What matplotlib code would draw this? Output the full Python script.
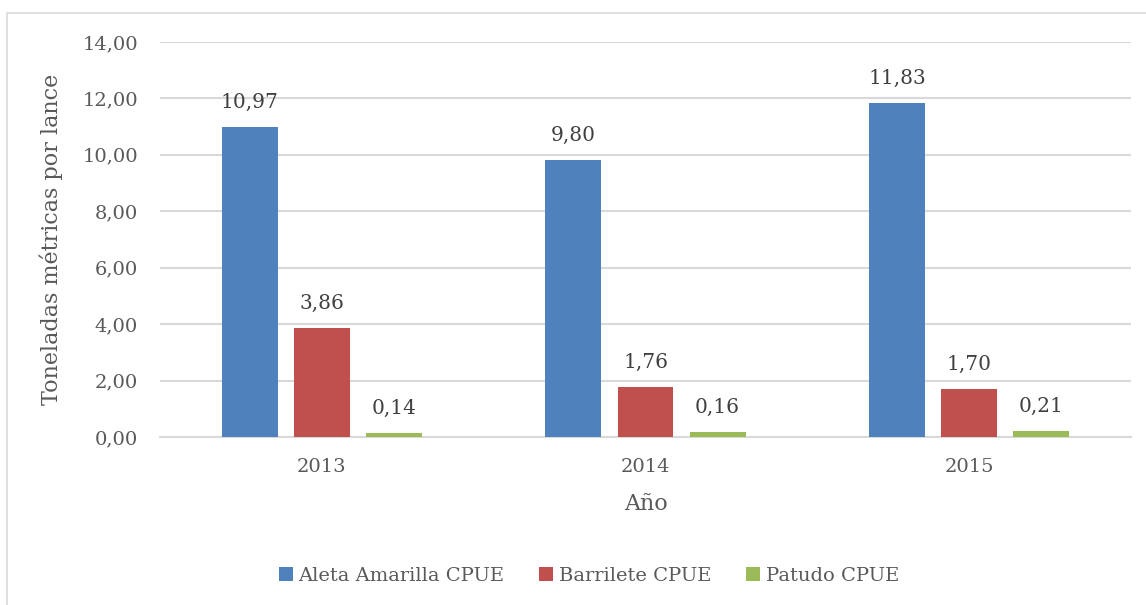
import matplotlib
matplotlib.use("Agg")
import matplotlib.pyplot as plt
import numpy as np
from matplotlib.patches import Rectangle

YEARS = ["2013", "2014", "2015"]
SERIES = ["Aleta Amarilla CPUE", "Barrilete CPUE", "Patudo CPUE"]
ALETA = [10.97, 9.80, 11.83]
BARRILETE = [3.86, 1.76, 1.70]
PATUDO = [0.14, 0.16, 0.21]
COLORS = ["#4F81BD", "#C0504D", "#9BBB59"]
TEXT = "#595959"

plt.rcParams["font.family"] = ["DejaVu Serif"]

fig = plt.figure(figsize=(11.46, 6.05), dpi=100)
ax = fig.add_axes([160 / 1146, 1 - 437 / 605, 971 / 1146, 395 / 605])

# outer chart frame
fig.patches.append(Rectangle((7 / 1146, -0.05), 1.1, 1 - 13 / 605 + 0.05,
                             transform=fig.transFigure, fill=False,
                             edgecolor="#D9D9D9", linewidth=1.2))

x = np.arange(len(YEARS))
width = 0.173
step = 0.2226
for i, (vals, name, col) in enumerate(zip([ALETA, BARRILETE, PATUDO], SERIES, COLORS)):
    pos = x + (i - 1) * step
    ax.bar(pos, vals, width, color=col, label=name, zorder=3)
    for p, v in zip(pos, vals):
        ax.annotate(f"{v:.2f}".replace(".", ","), (p, v), xytext=(0, 11),
                    textcoords="offset points", ha="center", va="bottom",
                    fontsize=14.5, color="#404040")

ax.set_xlim(-0.5, 2.5)
ax.set_ylim(0, 14)
ax.set_yticks(np.arange(0, 14.01, 2))
ax.set_yticklabels([f"{t:.2f}".replace(".", ",") for t in np.arange(0, 14.01, 2)])
ax.set_xticks(x)
ax.set_xticklabels(YEARS)
ax.yaxis.grid(True, color="#D9D9D9", linewidth=1.5, zorder=0)
ax.set_axisbelow(True)
for s in ["top", "right", "left"]:
    ax.spines[s].set_visible(False)
ax.spines["bottom"].set_color("#D9D9D9")
ax.spines["bottom"].set_linewidth(1.5)
ax.tick_params(length=0, labelsize=14, labelcolor=TEXT)
ax.tick_params(axis="x", pad=15)
ax.tick_params(axis="y", pad=16)

ax.set_xlabel("Año", fontsize=16, color=TEXT, labelpad=12)
ax.set_ylabel("Toneladas métricas por lance", fontsize=16, color=TEXT, labelpad=14)

ax.legend(loc="center", bbox_to_anchor=(589 / 1146, (605 - 576) / 605), bbox_transform=fig.transFigure,
          ncol=3, frameon=False, fontsize=14, labelcolor=TEXT,
          handlelength=0.7, handleheight=0.7, handletextpad=0.3, columnspacing=1.8)

fig.savefig("out.png", dpi=100)
